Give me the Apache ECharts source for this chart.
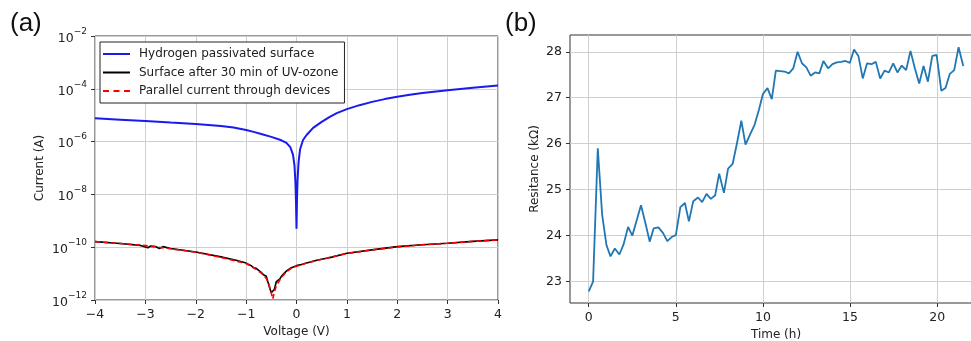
<!DOCTYPE html>
<html>
<head>
<meta charset="utf-8">
<script src="https://cdn.jsdelivr.net/npm/echarts@6/dist/echarts.min.js"></script>
<style>
  html, body { margin: 0; padding: 0; background: #fff; }
  #chart { width: 971px; height: 341px; }
</style>
</head>
<body>
<div id="chart"></div>
<script>
// ---- (a) I–V curves: voltage (V) and current (A) ----
const hVolt = [-4, -3.5, -3, -2.5, -2, -1.5, -1.25, -1, -0.85, -0.7, -0.5, -0.3, -0.2, -0.12, -0.07, -0.04, -0.02, -0.01, 0,
  0.01, 0.02, 0.04, 0.07, 0.13, 0.2, 0.33, 0.5, 0.66, 0.8, 1, 1.25, 1.5, 1.75, 2, 2.25, 2.5, 3, 3.5, 4];
const hCurrent = [7.59e-6, 6.76e-6, 6.03e-6, 5.25e-6, 4.68e-6, 3.89e-6, 3.39e-6, 2.75e-6, 2.34e-6, 1.95e-6, 1.51e-6, 1.12e-6, 8.9e-7, 6.0e-7, 3.2e-7, 1.26e-7, 2.5e-8, 5.0e-9, 5.0e-10,
  6.3e-9, 3.2e-8, 1.6e-7, 5.0e-7, 1.15e-6, 1.78e-6, 3.3e-6, 5.6e-6, 8.7e-6, 1.2e-5, 1.7e-5, 2.4e-5, 3.2e-5, 4.07e-5, 5.0e-5, 5.96e-5, 6.9e-5, 8.9e-5, 1.1e-4, 1.32e-4];

const uvVolt = [-4, -3.5, -3.1, -2.95, -2.9, -2.8, -2.72, -2.65, -2.5, -2, -1.5, -1.2, -1, -0.9, -0.85, -0.8, -0.75, -0.7, -0.65, -0.6,
  -0.57, -0.53, -0.5, -0.47, -0.44, -0.4, -0.37, -0.33, -0.3, -0.25, -0.2, -0.1, 0, 0.1, 0.2, 0.3, 0.4, 0.5, 0.6, 0.7, 1, 1.5, 2, 2.5, 3, 3.5, 4];
const uvCurrent = [1.62e-10, 1.38e-10, 1.17e-10, 9.5e-11, 1.10e-10, 1.07e-10, 8.9e-11, 1.05e-10, 8.9e-11, 6.6e-11, 4.3e-11, 3.2e-11, 2.5e-11, 2.0e-11, 1.66e-11, 1.58e-11, 1.32e-11, 1.12e-11, 8.9e-12, 7.9e-12,
  5.0e-12, 2.8e-12, 1.9e-12, 1.66e-12, 2.5e-12, 5.0e-12, 4.5e-12, 6.3e-12, 7.9e-12, 1.0e-11, 1.26e-11, 1.66e-11, 2.0e-11, 2.2e-11, 2.5e-11, 2.8e-11, 3.2e-11, 3.5e-11, 3.8e-11, 4.2e-11, 5.9e-11, 7.9e-11, 1.05e-10, 1.23e-10, 1.41e-10, 1.66e-10, 1.9e-10];

const parVolt = [-4, -3.5, -3, -2.5, -2, -1.5, -1.2, -1, -0.8, -0.7, -0.6, -0.55, -0.5, -0.47, -0.44, -0.4, -0.3, -0.2, -0.1, 0,
  0.25, 0.5, 1, 1.5, 2, 2.5, 3, 3.5, 4];
const parCurrent = [1.62e-10, 1.38e-10, 1.15e-10, 8.7e-11, 6.5e-11, 4.1e-11, 3.0e-11, 2.4e-11, 1.45e-11, 1.05e-11, 6.6e-12, 4.0e-12, 1.8e-12, 1.1e-12, 2.0e-12, 3.5e-12, 7.1e-12, 1.17e-11, 1.6e-11, 1.9e-11,
  2.7e-11, 3.5e-11, 5.75e-11, 7.9e-11, 1.02e-10, 1.23e-10, 1.41e-10, 1.66e-10, 1.9e-10];

const seriesNames = ['Hydrogen passivated surface', 'Surface after 30 min of UV-ozone', 'Parallel current through devices'];
const voltTicks = [-4, -3, -2, -1, 0, 1, 2, 3, 4];
const currentExpTicks = [-12, -10, -8, -6, -4, -2];

// ---- (b) resistance drift over time ----
const timeH = [0, 0.25, 0.52, 0.77, 1.02, 1.25, 1.5, 1.76, 2.0, 2.26, 2.5, 2.75, 3.0, 3.25, 3.5, 3.73, 4.0, 4.26, 4.51, 4.76,
  5.0, 5.26, 5.52, 5.75, 6.0, 6.27, 6.51, 6.76, 7.01, 7.26, 7.49, 7.76, 8.0, 8.26, 8.51, 8.76, 9.0, 9.27, 9.52, 9.77,
  10.0, 10.26, 10.51, 10.74, 10.99, 11.24, 11.49, 11.74, 11.99, 12.24, 12.49, 12.74, 12.99, 13.24, 13.47, 13.74, 13.99, 14.24, 14.49, 14.74,
  14.99, 15.23, 15.48, 15.73, 15.98, 16.23, 16.48, 16.73, 16.98, 17.23, 17.48, 17.72, 17.97, 18.22, 18.47, 18.72, 18.97, 19.22, 19.47, 19.72,
  19.97, 20.24, 20.48, 20.73, 20.98, 21.23, 21.5];
const resistanceK = [22.79, 23.0, 25.9, 24.46, 23.79, 23.55, 23.72, 23.59, 23.81, 24.19, 24.0, 24.33, 24.66, 24.28, 23.87, 24.16, 24.18, 24.06, 23.88, 23.97,
  24.01, 24.62, 24.71, 24.31, 24.75, 24.83, 24.73, 24.91, 24.8, 24.88, 25.35, 24.93, 25.46, 25.56, 26.01, 26.5, 25.98, 26.21, 26.41, 26.74,
  27.08, 27.21, 26.97, 27.59, 27.58, 27.57, 27.53, 27.64, 28.0, 27.75, 27.66, 27.48, 27.55, 27.53, 27.8, 27.64, 27.73, 27.77, 27.78, 27.8,
  27.76, 28.05, 27.91, 27.42, 27.75, 27.73, 27.78, 27.42, 27.59, 27.55, 27.75, 27.55, 27.7, 27.6, 28.02, 27.64, 27.31, 27.69, 27.35, 27.91,
  27.93, 27.15, 27.21, 27.52, 27.6, 28.1, 27.69];
const timeTicks = [0, 5, 10, 15, 20];
const resTicks = [23, 24, 25, 26, 27, 28];

const FONT = 'DejaVu Sans';
const TXT = '#222';
const minus = s => String(s).replace('-', '\u2212');

const pairs = (xs, ys, f) => xs.map((x, i) => [x, f ? f(ys[i]) : ys[i]]);
const log10 = v => Math.log10(v);

const baseAxis = {
  axisLine: { show: false, onZero: false },
  axisTick: { show: true, length: 4, lineStyle: { color: '#333', width: 1 } },
  splitLine: { show: true, lineStyle: { color: '#cfcfcf', width: 1 } },
  axisLabel: { color: TXT, fontFamily: FONT, fontSize: 12.5, margin: 8 },
  nameLocation: 'middle',
  nameTextStyle: { color: TXT, fontFamily: FONT, fontSize: 12 }
};

// legend glyphs: solid strokes and a three-dash stroke, 27 px wide
const solidIcon = h => 'path://M0,0 H27 V' + h + ' H0 Z';
const dashIcon = 'path://M0,0 H6 V1.6 H0 Z M10.5,0 H16.5 V1.6 H10.5 Z M21,0 H27 V1.6 H21 Z';

const chart = echarts.init(document.getElementById('chart'), null, { renderer: 'canvas' });

chart.setOption({
  animation: false,
  backgroundColor: '#fff',
  grid: [
    { left: 95, top: 36, width: 403, height: 264, outerBoundsMode: 'none', containLabel: false,
      show: true, borderColor: '#333', borderWidth: 1, backgroundColor: 'transparent' },
    { left: 570, top: 35, width: 412, height: 268, outerBoundsMode: 'none', containLabel: false,
      show: true, borderColor: '#333', borderWidth: 1, backgroundColor: 'transparent' }
  ],
  xAxis: [
    Object.assign({}, baseAxis, {
      type: 'value', gridIndex: 0, min: -4, max: 4, interval: 1,
      name: 'Voltage (V)', nameGap: 25,
      axisLabel: Object.assign({}, baseAxis.axisLabel, { formatter: v => minus(v), customValues: voltTicks }),
      axisTick: Object.assign({}, baseAxis.axisTick, { customValues: voltTicks })
    }),
    Object.assign({}, baseAxis, {
      type: 'value', gridIndex: 1, min: -1.075, max: 22.575,
      name: 'Time (h)', nameGap: 24,
      axisLabel: Object.assign({}, baseAxis.axisLabel, { customValues: timeTicks }),
      axisTick: Object.assign({}, baseAxis.axisTick, { customValues: timeTicks })
    })
  ],
  yAxis: [
    Object.assign({}, baseAxis, {
      type: 'value', gridIndex: 0, min: -12, max: -2, interval: 2,
      name: 'Current (A)', nameGap: 49,
      axisLabel: Object.assign({}, baseAxis.axisLabel, {
        customValues: currentExpTicks,
        formatter: v => '{b|10}{s|' + minus(v) + '}',
        rich: {
          b: { fontFamily: FONT, fontSize: 12.5, color: TXT, padding: [5, 0, 0, 0] },
          s: { fontFamily: FONT, fontSize: 9, color: TXT, verticalAlign: 'top' }
        }
      }),
      axisTick: Object.assign({}, baseAxis.axisTick, { customValues: currentExpTicks })
    }),
    Object.assign({}, baseAxis, {
      type: 'value', gridIndex: 1, min: 22.535, max: 28.365,
      name: 'Resitance (k\u03A9)', nameGap: 29,
      axisLabel: Object.assign({}, baseAxis.axisLabel, { customValues: resTicks }),
      axisTick: Object.assign({}, baseAxis.axisTick, { customValues: resTicks })
    })
  ],
  legend: {
    orient: 'vertical', left: 100, top: 42,
    data: [
      { name: seriesNames[0], icon: solidIcon(2) },
      { name: seriesNames[1], icon: solidIcon(1.6) },
      { name: seriesNames[2], icon: dashIcon }
    ],
    itemWidth: 27, itemHeight: 2, itemGap: 4.5,
    symbolKeepAspect: false,
    padding: [5, 6, 5, 3],
    backgroundColor: '#fff', borderColor: '#222', borderWidth: 1, borderRadius: 0,
    textStyle: { color: TXT, fontFamily: FONT, fontSize: 12, lineHeight: 14, padding: [0, 0, 0, 4] }
  },
  graphic: [
    { type: 'text', left: 10, top: 11, style: { text: '(a)', font: '26px "Liberation Sans"', fill: '#111' } },
    { type: 'text', left: 505, top: 11, style: { text: '(b)', font: '26px "Liberation Sans"', fill: '#111' } }
  ],
  series: [
    {
      name: seriesNames[0], type: 'line', xAxisIndex: 0, yAxisIndex: 0,
      data: pairs(hVolt, hCurrent, log10), showSymbol: false, symbol: 'none',
      lineStyle: { color: '#1a1aee', width: 2 }, itemStyle: { color: '#1a1aee' }, z: 3
    },
    {
      name: seriesNames[1], type: 'line', xAxisIndex: 0, yAxisIndex: 0,
      data: pairs(uvVolt, uvCurrent, log10), showSymbol: false, symbol: 'none',
      lineStyle: { color: '#000', width: 1.6 }, itemStyle: { color: '#000' }, z: 4
    },
    {
      name: seriesNames[2], type: 'line', xAxisIndex: 0, yAxisIndex: 0,
      data: pairs(parVolt, parCurrent, log10), showSymbol: false, symbol: 'none',
      lineStyle: { color: '#ff0000', width: 1.6, type: [5, 3] }, itemStyle: { color: '#ff0000' }, z: 5
    },
    {
      name: 'Resistance', type: 'line', xAxisIndex: 1, yAxisIndex: 1,
      data: pairs(timeH, resistanceK), showSymbol: false, symbol: 'none',
      lineStyle: { color: '#1f77b4', width: 1.8 }, itemStyle: { color: '#1f77b4' }, z: 3
    }
  ]
});
</script>
</body>
</html>
